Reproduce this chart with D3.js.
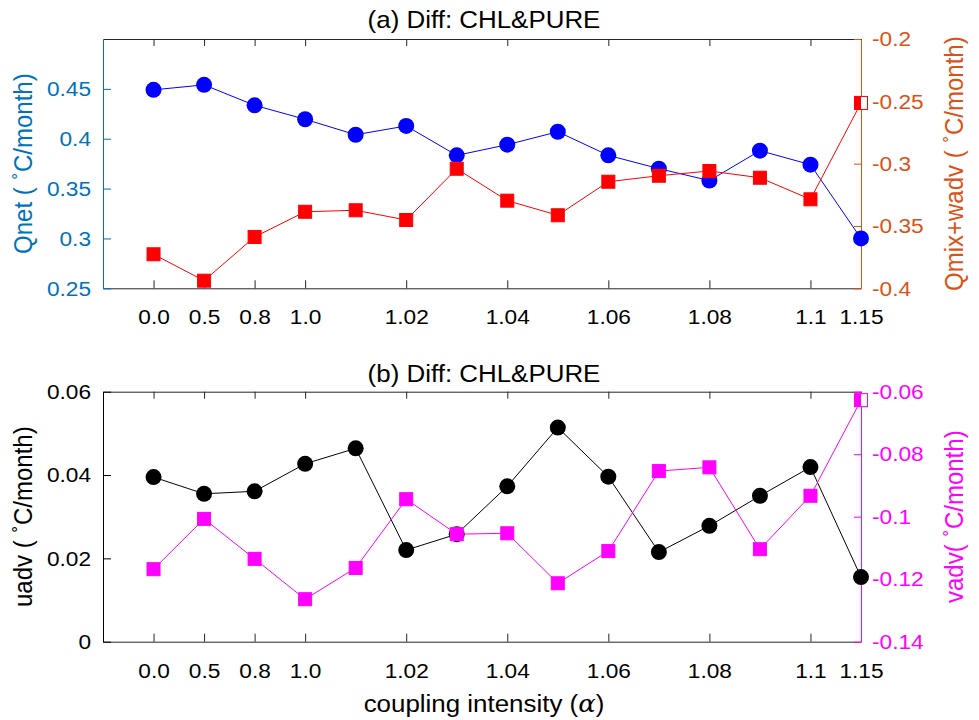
<!DOCTYPE html>
<html><head><meta charset="utf-8">
<script src="https://cdn.jsdelivr.net/npm/d3@7"></script>
<style>
body{margin:0;background:#fff}
svg{display:block}
text{font-family:"Liberation Sans",Arial,Helvetica,sans-serif}
</style>
</head><body><svg id="c" width="979" height="720"></svg>
<script>
// ---------- data ----------
const categories = ["0.0","0.5","0.8","1.0","","1.02","","1.04","","1.06","","1.08","","1.1","1.15"];
const qnet     = [0.449,0.454,0.4335,0.4195,0.404,0.4128,0.3833,0.394,0.407,0.3833,0.370,0.358,0.388,0.374,0.300];
const qmixWadv = [-0.3727,-0.3939,-0.3588,-0.3386,-0.3374,-0.3452,-0.3041,-0.3297,-0.3414,-0.3145,-0.3097,-0.3059,-0.3113,-0.3286,-0.2513];
const uadv     = [0.0395,0.0355,0.0361,0.0427,0.0464,0.0220,0.0258,0.0373,0.0514,0.0396,0.0215,0.0278,0.0350,0.0419,0.0155];
const vadv     = [-0.1168,-0.1007,-0.1135,-0.1264,-0.1164,-0.0944,-0.1056,-0.1053,-0.1213,-0.1110,-0.0854,-0.0842,-0.1104,-0.0933,-0.0627];
const leftTicksA  = [0.25,0.3,0.35,0.4,0.45];
const rightTicksA = [-0.4,-0.35,-0.3,-0.25,-0.2];
const leftTicksB  = [0,0.02,0.04,0.06];
const rightTicksB = [-0.14,-0.12,-0.1,-0.08,-0.06];

// ---------- layout ----------
const SX = 1.08;            // horizontal text stretch
const TICK_FS = 21, LABEL_FS = 24, TITLE_FS = 24;
const X0 = 103, X1 = 861;
const svg = d3.select("#c");
const x = d3.scaleLinear().domain([-1, 14]).range([X0, X1]);
const idx = d3.range(categories.length);
const labeledIdx = idx.filter(i => categories[i] !== "");

function ylabel(g, cx, cy, pre, post, color){
  const t = g.append("text")
    .attr("transform", `translate(${cx},${cy}) scale(${SX},1) rotate(-90)`)
    .attr("text-anchor","middle").attr("dominant-baseline","central")
    .attr("font-size", LABEL_FS).attr("fill", color);
  t.append("tspan").text(pre);
  t.append("tspan").attr("font-size", LABEL_FS*0.6).attr("dy", -9).text("∘");
  t.append("tspan").attr("dy", 9).text(post);
}

function panel(o){
  const g = svg.append("g");
  const yL = d3.scaleLinear().domain(o.leftDomain).range([o.bottom, o.top]);
  const yR = d3.scaleLinear().domain(o.rightDomain).range([o.bottom, o.top]);
  const clipId = "clip" + o.id;
  svg.append("defs").append("clipPath").attr("id", clipId)
    .append("rect").attr("x", X0).attr("y", o.top).attr("width", X1 - X0).attr("height", o.bottom - o.top);

  // axes
  const bottom = g.append("g").attr("transform", `translate(0,${o.bottom})`)
    .call(d3.axisBottom(x).tickValues(labeledIdx).tickFormat(i => categories[i]).tickSize(-8).tickSizeOuter(0).tickPadding(21));
  bottom.selectAll("text").attr("font-size", TICK_FS).attr("fill","#000").attr("transform",`scale(${SX},1)`);
  const top = g.append("g").attr("transform", `translate(0,${o.top})`)
    .call(d3.axisTop(x).tickValues(labeledIdx).tickFormat("").tickSize(-7).tickSizeOuter(0));
  [bottom, top].forEach(a => { a.select(".domain").attr("stroke","#262626"); a.selectAll("line").attr("stroke","#262626"); });

  const left = g.append("g").attr("transform", `translate(${X0},0)`)
    .call(d3.axisLeft(yL).tickValues(o.leftTicks).tickFormat(d => String(d)).tickSize(-8).tickSizeOuter(0).tickPadding(12));
  left.select(".domain").attr("stroke", o.leftColor);
  left.selectAll("line").attr("stroke", o.leftColor);
  left.selectAll("text").attr("font-size", TICK_FS).attr("fill", o.leftColor)
    .attr("x", -12 / SX).attr("transform", `scale(${SX},1)`);

  const right = g.append("g").attr("transform", `translate(${X1},0)`)
    .call(d3.axisRight(yR).tickValues(o.rightTicks).tickFormat(d => String(d)).tickSize(-7).tickSizeOuter(0).tickPadding(11));
  right.select(".domain").attr("stroke", o.rightColor);
  right.selectAll("line").attr("stroke", o.rightColor);
  right.selectAll("text").attr("font-size", TICK_FS).attr("fill", o.rightColor)
    .attr("x", 11 / SX).attr("transform", `scale(${SX},1)`);

  // left series: line + circles
  g.append("path").datum(o.leftSeries)
    .attr("d", d3.line().x((d,i) => x(i)).y(d => yL(d)))
    .attr("fill","none").attr("stroke", o.leftSeriesColor).attr("stroke-width",1);
  g.selectAll(".c" + o.id).data(o.leftSeries).join("circle")
    .attr("cx", (d,i) => x(i)).attr("cy", d => yL(d)).attr("r", 8)
    .attr("fill", o.leftSeriesColor);

  // right series: line + squares
  g.append("path").datum(o.rightSeries)
    .attr("d", d3.line().x((d,i) => x(i)).y(d => yR(d)))
    .attr("fill","none").attr("stroke", o.rightSeriesColor).attr("stroke-width",1);
  const S = 13;
  g.selectAll(".sw" + o.id).data(o.rightSeries).join("rect")
    .attr("x", (d,i) => x(i) - S/2).attr("y", d => yR(d) - S/2).attr("width", S).attr("height", S)
    .attr("fill","#fff").attr("stroke", o.rightSeriesColor).attr("stroke-width",1);
  g.append("g").attr("clip-path", `url(#${clipId})`)
    .selectAll("rect").data(o.rightSeries).join("rect")
    .attr("x", (d,i) => x(i) - S/2).attr("y", d => yR(d) - S/2).attr("width", S).attr("height", S)
    .attr("fill", o.rightSeriesColor);

  // title
  g.append("text").attr("transform", `translate(484,${o.titleY}) scale(${SX},1)`)
    .attr("text-anchor","middle").attr("font-size", TITLE_FS).attr("fill","#000").text(o.title);

  ylabel(g, 23, (o.top + o.bottom)/2, o.leftLabel[0], o.leftLabel[1], o.leftColor);
  ylabel(g, 954, (o.top + o.bottom)/2, o.rightLabel[0], o.rightLabel[1], o.rightColor);
}

panel({id:"a", top:39, bottom:288.3, leftDomain:[0.25,0.5], rightDomain:[-0.4,-0.2],
  leftTicks:leftTicksA, rightTicks:rightTicksA, leftColor:"#0072BD", rightColor:"#D95319",
  leftSeries:qnet, rightSeries:qmixWadv, leftSeriesColor:"#0000FF", rightSeriesColor:"#FF0000",
  title:"(a) Diff: CHL&PURE", titleY:28,
  leftLabel:["Qnet ( ","C/month)"], rightLabel:["Qmix+wadv ( ","C/month)"]});

panel({id:"b", top:391.7, bottom:641.7, leftDomain:[0,0.06], rightDomain:[-0.14,-0.06],
  leftTicks:leftTicksB, rightTicks:rightTicksB, leftColor:"#000000", rightColor:"#FF00FF",
  leftSeries:uadv, rightSeries:vadv, leftSeriesColor:"#000000", rightSeriesColor:"#FF00FF",
  title:"(b) Diff: CHL&PURE", titleY:382,
  leftLabel:["uadv ( ","C/month)"], rightLabel:["vadv( ","C/month)"]});

// x label
const xl = svg.append("text").attr("transform","translate(484,712) scale(1.08,1)")
  .attr("text-anchor","middle").attr("font-size", LABEL_FS).attr("fill","#000");
xl.append("tspan").text("coupling intensity (");
xl.append("tspan").attr("font-family","'DejaVu Serif','Liberation Serif',serif").attr("font-style","italic").text("α");
xl.append("tspan").text(")");
</script></body></html>
